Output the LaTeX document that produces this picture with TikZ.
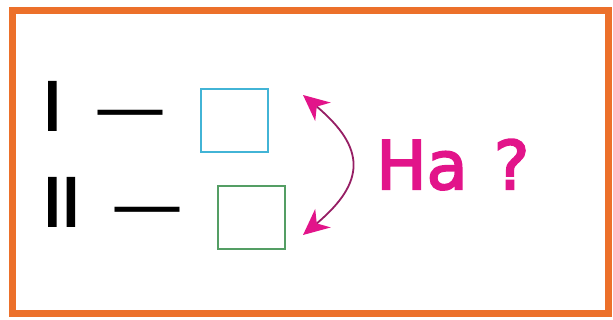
\documentclass[tikz,border=0pt]{standalone}
\usepackage{fontspec}
\setmainfont{DejaVu Sans}
\newfontfamily\numfont[FakeBold=3]{DejaVu Sans}
\usetikzlibrary{arrows.meta,positioning}

\definecolor{frameorange}{RGB}{236,112,42}
\definecolor{boxcyan}{RGB}{66,180,214}
\definecolor{boxgreen}{RGB}{84,158,100}
\definecolor{hapink}{RGB}{226,20,138}
\definecolor{curvepink}{RGB}{150,30,100}

\begin{document}
\begin{tikzpicture}[
    x=1pt, y=-1pt,
    % Node styles
    numeral/.style={font=\numfont\fontsize{66}{66}\selectfont, inner sep=0pt, anchor=base west},
    dashmark/.style={font=\fontsize{72}{72}\selectfont, inner sep=0pt, anchor=base west},
    slot/.style={draw, line width=2pt, minimum width=67pt, minimum height=63pt, inner sep=0pt},
    question/.style={font=\numfont\fontsize{67}{67}\selectfont, text=hapink, inner sep=0pt, anchor=base west},
    swap/.style={{Stealth[length=26pt, width=24pt, inset=8pt, color=hapink]}-{Stealth[length=26pt, width=24pt, inset=8pt, color=hapink]}, line width=1.8pt, draw=curvepink},
]
\useasboundingbox (0,0) rectangle (613,320);

% ============================================================
% Frame
% ============================================================
\draw[frameorange, line width=7pt] (12.5,11) rectangle (608,314);

% ============================================================
% Row I
% ============================================================
\node[numeral] (n1) at (42.5,130) {I};
\node[dashmark] (d1) at (94,132.7) {—};
\node[slot, draw=boxcyan] (box1) at (234.5,120.5) {};

% ============================================================
% Row II
% ============================================================
\node[numeral] (n2) at (42.5,226) {I\kern-1ptI};
\node[dashmark] (d2) at (111,229.7) {—};
\node[slot, draw=boxgreen] (box2) at (251,218) {};

% ============================================================
% Swap arrow and question
% ============================================================
\coordinate (swapTop) at (303,95);
\coordinate (swapBot) at (303,235);
\draw[swap] (swapTop) .. controls (366,148) and (366,182) .. (swapBot);

\node[question] (ha) at (376,189) {Ha \kern5pt?};

\end{tikzpicture}
\end{document}
